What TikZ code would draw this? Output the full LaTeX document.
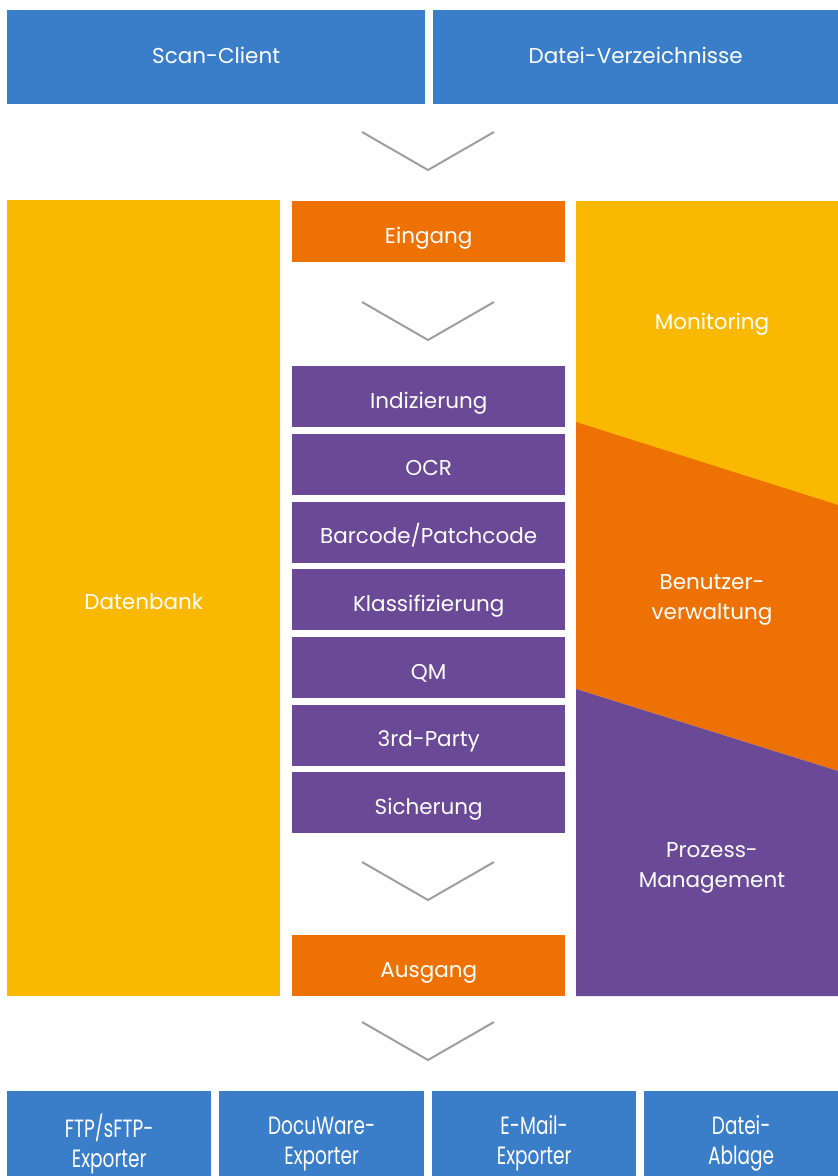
\documentclass[tikz,border=0pt]{standalone}
\usepackage{fontspec}
\setmainfont{Poppins}
\newfontfamily\condfont[FakeStretch=0.74]{Poppins}
\definecolor{dwblue}{HTML}{3A7DC9}
\definecolor{dwyellow}{HTML}{FAB900}
\definecolor{dworange}{HTML}{EE7203}
\definecolor{dwpurple}{HTML}{6A4996}
\definecolor{dwgray}{HTML}{9E9E9E}
\tikzset{
  box/.style={fill=#1,text=white,inner sep=0pt,anchor=north west,align=center,
    font=\fontsize{21.5}{24}\selectfont,text height=25pt,text depth=2pt},
  source/.style={box=dwblue,minimum height=94pt,text height=14.6pt},
  stage/.style={box=#1,minimum width=273pt,minimum height=61pt},
  export/.style={box=dwblue,minimum height=105pt,text height=,text depth=,
    font=\condfont\fontsize{25}{30}\selectfont},
  chevron/.style={draw=dwgray,line width=2pt},
  label/.style={text=white,align=center,font=\fontsize{21.5}{30}\selectfont}
}
\begin{document}
\begin{tikzpicture}[x=1pt,y=-1pt]
  \useasboundingbox (0,0) rectangle (838,1176);
  % sources
  \node[source,minimum width=418pt] (scan) at (7,10) {Scan-Client};
  \node[source,minimum width=405pt] (dirs) at (433,10) {Datei-Verzeichnisse};
  % left column
  \node[box=dwyellow,minimum width=273pt,minimum height=796pt] (db) at (7,200) {Datenbank};
  % middle column
  \node[stage=dworange] (in) at (292,201) {Eingang};
  \foreach \name/\txt [count=\i from 0] in {idx/Indizierung, ocr/OCR, bar/{Barcode/Patchcode},
      cls/Klassifizierung, qm/QM, third/3rd-Party, save/Sicherung}
    \node[stage=dwpurple] (\name) at (292,366+67.7*\i) {\txt};
  \node[stage=dworange] (out) at (292,935) {Ausgang};
  % right column
  \fill[dwyellow] (576,201) rectangle (838,505);
  \fill[dworange] (576,422) -- (838,505) -- (838,771) -- (576,689) -- cycle;
  \fill[dwpurple] (576,689) -- (838,771) -- (838,996) -- (576,996) -- cycle;
  \node[label] (mon) at (712,324) {Monitoring};
  \node[label] (user) at (712,600) {Benutzer-\\verwaltung};
  \node[label] (proc) at (712,868) {Prozess-\\Management};
  % chevrons
  \foreach \y in {132,302,862,1022}
    \draw[chevron] (362,\y) -- (428,\y+38) -- (494,\y);
  % targets
  \node[export,minimum width=204pt] (ftp) at (7,1091) {FTP/sFTP-\\Exporter};
  \node[export,minimum width=205pt] (dw) at (219,1091) {DocuWare-\\Exporter};
  \node[export,minimum width=204pt] (mail) at (432,1091) {E-Mail-\\Exporter};
  \node[export,minimum width=194pt] (file) at (644,1091) {Datei-\\Ablage};
\end{tikzpicture}
\end{document}
